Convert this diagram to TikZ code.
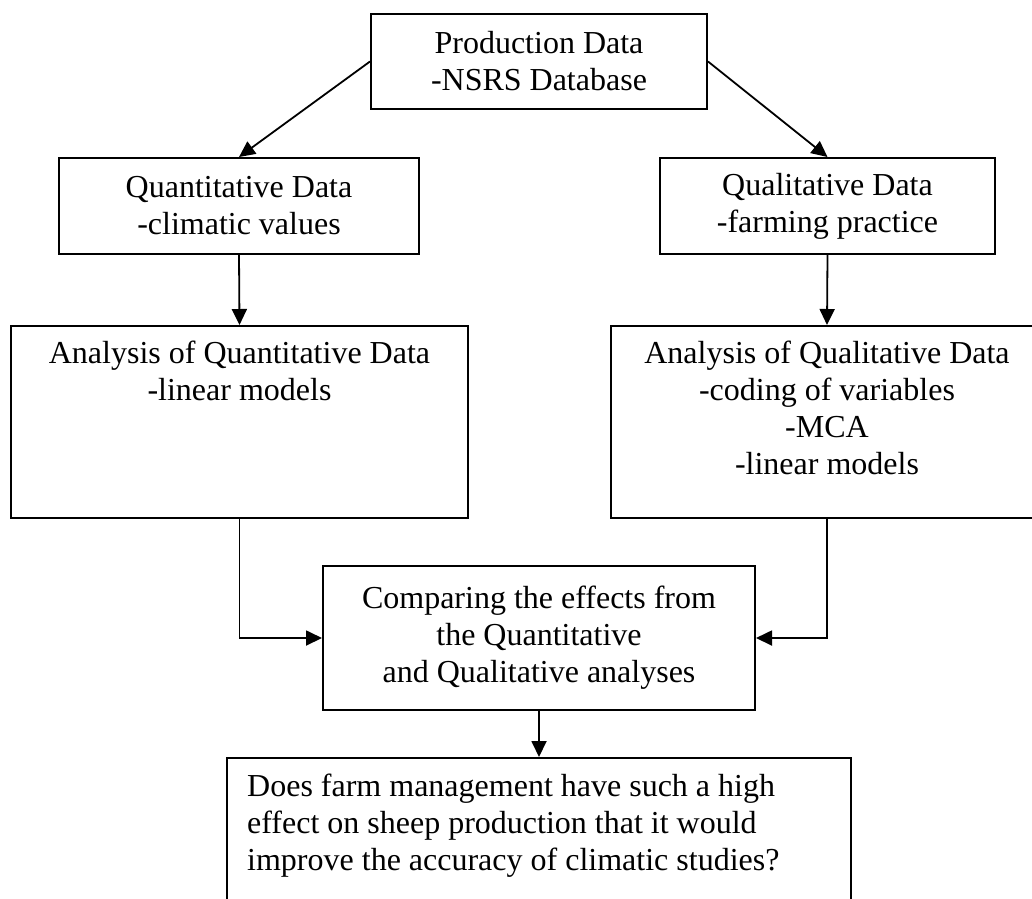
\documentclass[tikz,border=0pt]{standalone}
\usepackage{fontspec}
\setmainfont{Liberation Serif}
\usetikzlibrary{arrows.meta}

\begin{document}
\begin{tikzpicture}[x=1pt, y=-1pt,
		every node/.style={font=\fontsize{32}{37}\selectfont},
		box/.style={draw, line width=2pt, inner sep=0pt, align=center},
		boxtext/.style={inner sep=0pt},
		link/.style={line width=1.8pt, -{Triangle[length=16pt, width=15pt]}}]
	\useasboundingbox (0,0) rectangle (1032,898);
	% data sources
	\node (prod) [box, minimum width=336pt, minimum height=95pt] at (539,61.5) {Production Data\\-NSRS Database};
	\node (quant) [box, minimum width=360pt, minimum height=96pt] at (239,206) {Quantitative Data\\-climatic values};
	\node (qual) [box, minimum width=335pt, minimum height=96pt] at (827.5,206) {Qualitative Data\\-farming practice};
	% analyses
	\node (anaquant) [box, minimum width=457pt, minimum height=192pt] at (239.5,422) {};
	\node (anaquanttext) [boxtext, align=center, anchor=north] at ([yshift=-16pt]anaquant.north) {Analysis of Quantitative Data\\-linear models};
	\node (anaqual) [box, minimum width=432pt, minimum height=192pt] at (827,422) {};
	\node (anaqualtext) [boxtext, align=center, anchor=north] at ([yshift=-16pt]anaqual.north) {Analysis of Qualitative Data\\-coding of variables\\-MCA\\-linear models};
	% comparison and question
	\node (compare) [box, minimum width=432pt, minimum height=144pt] at (539,638) {Comparing the effects from\\the Quantitative\\and Qualitative analyses};
	\node (question) [box, minimum width=624pt, minimum height=172pt] at (539,844) {};
	\node (questiontext) [boxtext, align=left, anchor=north west] at ([xshift=21pt, yshift=-17pt]question.north west) {Does farm management have such a high\\effect on sheep production that it would\\improve the accuracy of climatic studies?};

	\draw [link] (prod.west) -- (quant.north);
	\draw [link] (prod.east) -- (qual.north);
	\draw [link] (quant.south) -- (anaquant.north);
	\draw [link] (qual.south) -- (anaqual.north);
	\draw [link] (anaquant.south) |- (compare.west);
	\draw [link] (anaqual.south) |- (compare.east);
	\draw [link] (compare.south) -- (question.north);
\end{tikzpicture}
\end{document}
